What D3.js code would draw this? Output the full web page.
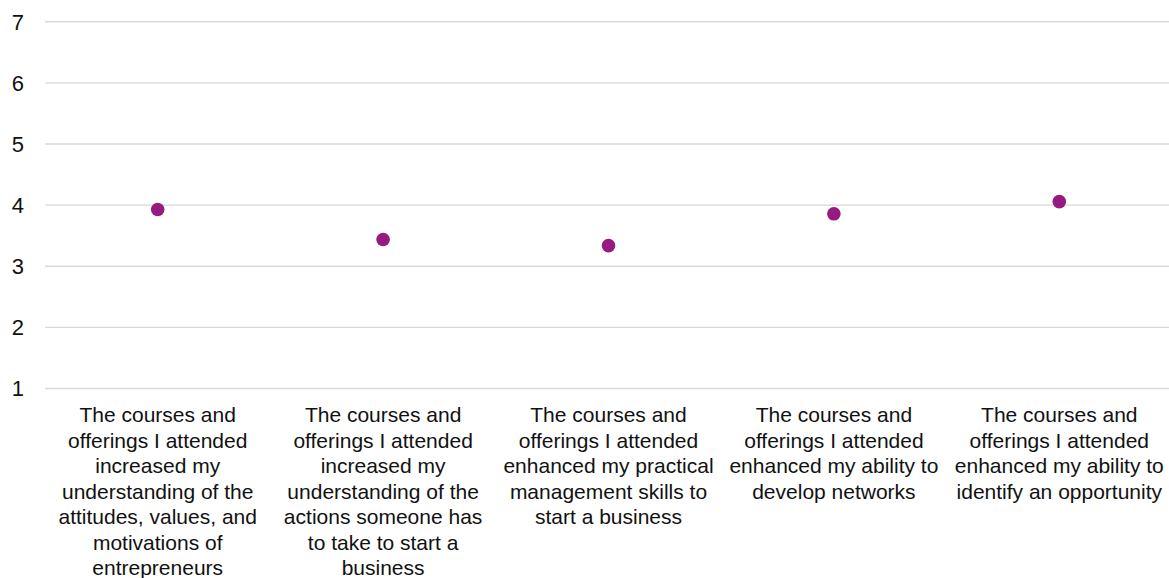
<!DOCTYPE html>
<html>
<head>
<meta charset="utf-8">
<script src="https://cdn.jsdelivr.net/npm/d3@7"></script>
<style>
  html, body { margin: 0; padding: 0; background: #fff; }
  svg { display: block; font-family: "Liberation Sans", Arial, Helvetica, sans-serif; }
</style>
</head>
<body>
<svg id="chart" width="1169" height="578"></svg>
<script>
const categoryLines = [
  ["The courses and", "offerings I attended", "increased my", "understanding of the", "attitudes, values, and", "motivations of", "entrepreneurs"],
  ["The courses and", "offerings I attended", "increased my", "understanding of the", "actions someone has", "to take to start a", "business"],
  ["The courses and", "offerings I attended", "enhanced my practical", "management skills to", "start a business"],
  ["The courses and", "offerings I attended", "enhanced my ability to", "develop networks"],
  ["The courses and", "offerings I attended", "enhanced my ability to", "identify an opportunity"]
];
const categories = categoryLines.map(l => l.join(" "));
const values = [3.92, 3.43, 3.33, 3.85, 4.05];
const yTicks = [1, 2, 3, 4, 5, 6, 7];

const svg = d3.select("#chart");
const mLeft = 45, mRight = 1172, mTop = 21.3, mBottom = 388;

const x = d3.scaleBand().domain(categories).range([mLeft, mRight]).padding(0);
const y = d3.scaleLinear().domain([1, 7]).range([mBottom, mTop]);

// gridlines
const yAxis = d3.axisLeft(y).tickValues(yTicks).tickSize(-(1169 - mLeft)).tickFormat(d3.format("d"));
const gy = svg.append("g").attr("transform", `translate(${mLeft},0)`).call(yAxis);
gy.select(".domain").remove();
gy.selectAll(".tick line").attr("stroke", "#d9d9d9").attr("stroke-width", 1.4);
gy.selectAll(".tick text")
  .attr("x", -21).attr("dy", "0.36em")
  .attr("fill", "#111").style("font-size", "22px")
  .style("font-family", "'Liberation Sans', Arial, Helvetica, sans-serif");

// x labels
const xAxis = d3.axisBottom(x).tickSize(0).tickFormat("");
const gx = svg.append("g").attr("transform", `translate(0,${mBottom})`).call(xAxis);
gx.select(".domain").remove();
gx.selectAll(".tick").each(function(d, i) {
  const t = d3.select(this).append("text")
    .attr("text-anchor", "middle")
    .attr("fill", "#111")
    .style("font-size", "21px")
    .style("font-family", "'Liberation Sans', Arial, Helvetica, sans-serif");
  categoryLines[i].forEach((line, j) => {
    t.append("tspan").attr("x", 0).attr("y", 34 + j * 25.5).text(line);
  });
});

// points
svg.append("g").selectAll("circle")
  .data(values)
  .join("circle")
  .attr("cx", (d, i) => x(categories[i]) + x.bandwidth() / 2)
  .attr("cy", d => y(d))
  .attr("r", 6.8)
  .attr("fill", "#951b81");
</script>
</body>
</html>
